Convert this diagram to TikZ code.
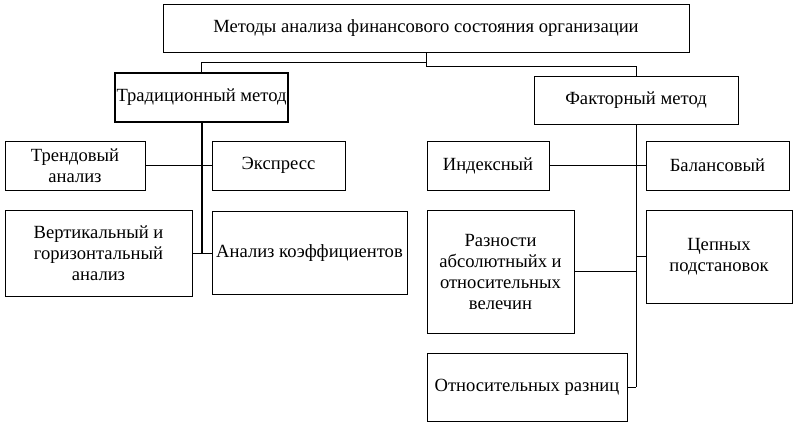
\documentclass[tikz,border=0pt]{standalone}
\usepackage{fontspec}
\setmainfont{Liberation Serif}

\begin{document}
\begin{tikzpicture}[x=1pt,y=-1pt,
        box/.style={draw,line width=1pt,inner sep=1pt,align=center,
            font=\fontsize{18.6}{21}\selectfont},
        link/.style={line width=1pt},
        trunk/.style={line width=2pt}]
        \useasboundingbox (0,0) rectangle (797,426);
        % top
        \node[box,minimum width=526pt,minimum height=48pt] (root) at (426,28) {Методы анализа финансового состояния организации};
        % left branch
        \node[box,line width=1.6pt,minimum width=173pt,minimum height=49pt] (trad) at (201.5,97.5) {Традиционный метод};
        \node[box,minimum width=140pt,minimum height=49pt] (trend) at (75,165.5) {Трендовый\\анализ};
        \node[box,minimum width=133pt,minimum height=49pt] (expr) at (278.5,165.5) {Экспресс};
        \node[box,minimum width=187pt,minimum height=86pt] (vert) at (98.5,253) {Вертикальный и\\горизонтальный\\анализ};
        \node[box,minimum width=195pt,minimum height=83pt] (coef) at (309.5,253) {Анализ коэффициентов};
        % right branch
        \node[box,minimum width=204pt,minimum height=48pt] (fact) at (636,100) {Факторный метод};
        \node[box,minimum width=122pt,minimum height=49pt] (index) at (488,165.5) {Индексный};
        \node[box,minimum width=143pt,minimum height=49pt] (bal) at (717.5,165.5) {Балансовый};
        \node[box,minimum width=147pt,minimum height=123pt] (razn) at (500.5,271.5) {Разности\\абсолютныйх и\\относительных\\велечин};
        \node[box,minimum width=146pt,minimum height=93pt] (chain) at (719,256.5) {Цепных\\подстановок};
        \node[box,minimum width=200pt,minimum height=68pt] (rel) at (527,387) {Относительных разниц};
        % connectors
        \coordinate (hubL) at (426,62);
        \coordinate (hubR) at (426,66);
        \draw[link] (root.south) -- (hubR) -| (fact.north);
        \draw[link] (trad.north) |- (hubL);
        \draw[trunk] (trad.south) -- (trad.south |- vert.east);
        \draw[link] (trend.east) -- (expr.west);
        \draw[link] (vert.east) -- (coef.west);
        \draw[link] (fact.south) -- (fact.south |- rel.east);
        \draw[link] (index.east) -- (bal.west);
        \draw[link] (razn.east) -- (razn.east -| fact.south);
        \draw[link] (chain.west) -- (chain.west -| fact.south);
        \draw[link] (rel.east) -- (rel.east -| fact.south);
    \end{tikzpicture}
\end{document}
